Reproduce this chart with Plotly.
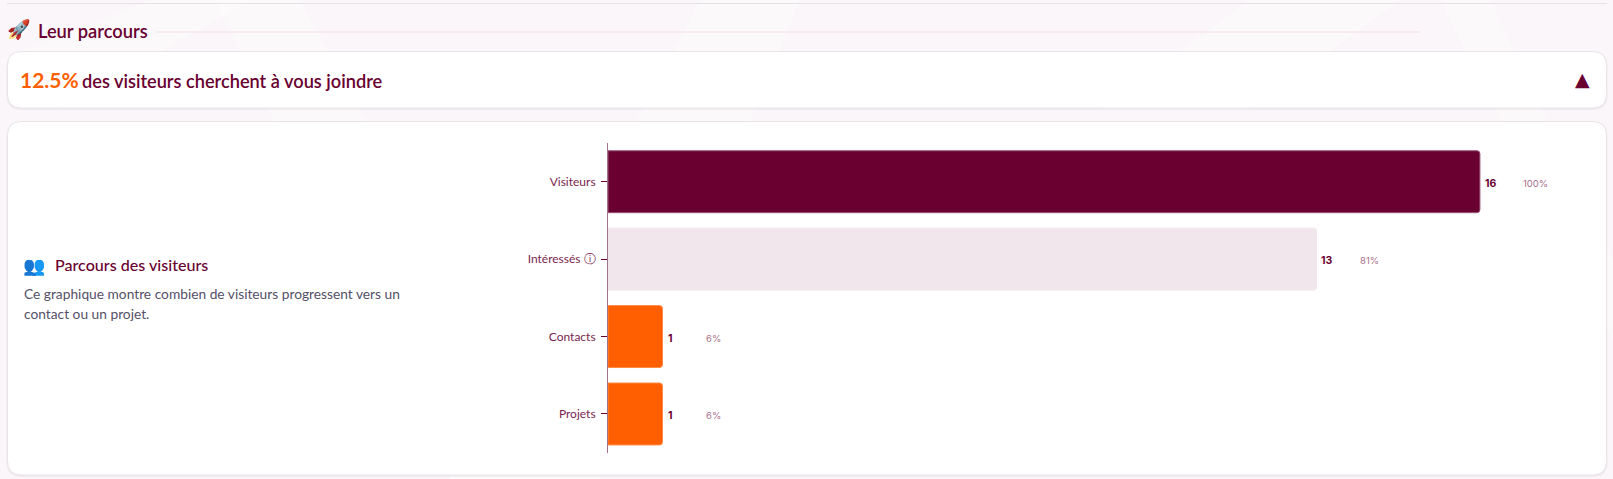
import plotly.graph_objects as go

W, H = 1613, 479
categories = ["Visiteurs", "Intéressés", "Contacts", "Projets"]
tick_labels = ["Visiteurs", "Intéressés ⓘ", "Contacts", "Projets"]
values = [16, 13, 1, 1]
percents = ["100%", "81%", "6%", "6%"]
bar_colors = ["#690030", "#F0E6EC", "#FF5F00", "#FF5F00"]
bar_edges = ["#9A5578", "#F0E6EC", "#FF8A45", "#FF8A45"]

WINE = "#690030"
BASE = "Lato"
def px(x): return x / W
def py(y): return 1 - y / H

def rounded(x0, y0, x1, y1, r):
    X0, X1, Y0, Y1 = px(x0), px(x1), py(y0), py(y1)
    rx, ry = r / W, r / H
    return (f"M{X0+rx},{Y0} L{X1-rx},{Y0} Q{X1},{Y0} {X1},{Y0-ry} L{X1},{Y1+ry} Q{X1},{Y1} {X1-rx},{Y1} "
            f"L{X0+rx},{Y1} Q{X0},{Y1} {X0},{Y1+ry} L{X0},{Y0-ry} Q{X0},{Y0} {X0+rx},{Y0} Z")

def poly(pts):
    return "M" + " L".join(f"{px(a)},{py(b)}" for a, b in pts) + " Z"

fig = go.Figure(go.Bar(
    y=categories, x=values, orientation="h",
    marker=dict(color=bar_colors, line=dict(color=bar_edges, width=1)),
    hoverinfo="skip", showlegend=False,
))

shapes = []
# faint background swooshes
for pts in [
    [(0, 60), (150, 0), (250, 0), (60, 110)],
    [(215, 0), (300, 0), (560, 479), (450, 479)],
    [(450, 479), (700, 0), (800, 0), (600, 479)],
    [(1440, 0), (1490, 0), (1613, 260), (1613, 340)],
    [(1250, 0), (1400, 0), (1250, 110), (1100, 110)],
]:
    shapes.append(dict(type="path", path=poly(pts), xref="paper", yref="paper",
                       fillcolor="rgba(255,255,255,0.4)", line=dict(width=0), layer="below"))
# top rule and heading rule
shapes.append(dict(type="line", xref="paper", yref="paper", x0=px(7), x1=px(1607), y0=py(3.5), y1=py(3.5),
                   line=dict(color="#E7E2E7", width=1), layer="below"))
shapes.append(dict(type="line", xref="paper", yref="paper", x0=px(156), x1=px(1420), y0=py(32), y1=py(32),
                   line=dict(color="#F3E6EC", width=1.5), layer="below"))
# cards
for (x0, y0, x1, y1) in [(7.5, 51.5, 1606.5, 108), (7.5, 121.5, 1606.5, 475)]:
    shapes.append(dict(type="path", path=rounded(x0 - 1, y0, x1 + 1, y1 + 2, 15), xref="paper", yref="paper",
                       fillcolor="rgba(120,90,110,0.07)", line=dict(width=0), layer="below"))
    shapes.append(dict(type="path", path=rounded(x0, y0, x1, y1, 14), xref="paper", yref="paper",
                       fillcolor="#FFFFFF", line=dict(color="#E8E4E8", width=1), layer="below"))

def note(x, y, text, size, color, weight=400, family=BASE, anchor="left"):
    return dict(x=px(x), y=py(y), xref="paper", yref="paper", text=text, showarrow=False,
                xanchor=anchor, yanchor="middle", align="left",
                font=dict(family=family, size=size, color=color, weight=weight))

notes = [
    note(5, 30, "🚀", 19, WINE, family="Noto Color Emoji, DejaVu Sans"),
    note(35.5, 31, "Leur parcours", 18.3, WINE, 600),
    note(17.5, 79.5, "12.5%", 21, "#FF5F00", 700),
    note(80, 80.5, "des visiteurs cherchent à vous joindre", 18.2, WINE, 600),
    note(1582, 79, "▲", 19, WINE, family="DejaVu Sans", anchor="center"),
    note(21, 265, "👥", 18, "#2F7FD0", family="Noto Color Emoji, DejaVu Sans"),
    note(52.5, 264.5, "Parcours des visiteurs", 16.1, WINE, 500),
    note(21.5, 293, "Ce graphique montre combien de visiteurs progressent vers un", 13.75, "#555068"),
    note(21.5, 313, "contact ou un projet.", 13.75, "#555068"),
]
for c, v, p in zip(categories, values, percents):
    notes.append(dict(x=v, y=c, xref="x", yref="y", text=f"<b>{v}</b>", showarrow=False, xanchor="left",
                      xshift=3, yshift=-1.5, font=dict(family="Inter", size=10.5, color=WINE)))
    notes.append(dict(x=v, y=c, xref="x", yref="y", text=p, showarrow=False, xanchor="left",
                      xshift=41.5, yshift=-1.5, font=dict(family="Inter", size=9.5, color="#A8708C")))

fig.update_layout(
    width=W, height=H, autosize=False,
    margin=dict(l=0, r=0, t=0, b=0),
    paper_bgcolor="#FAF6F9", plot_bgcolor="rgba(0,0,0,0)",
    bargap=0.2, barcornerradius=3,
    shapes=shapes, annotations=notes,
    xaxis=dict(domain=[px(608), px(1590)], range=[0, 18.02], visible=False, fixedrange=True),
    yaxis=dict(domain=[py(452.7), py(143)], autorange="reversed", categoryorder="array",
               categoryarray=categories, tickvals=categories, ticktext=tick_labels,
               ticks="outside", ticklen=6, tickcolor=WINE, tickwidth=1,
               showline=True, linecolor="#A0708C", linewidth=1, showgrid=False, zeroline=False,
               ticklabelstandoff=3, tickfont=dict(family=BASE, size=12, color="#7A2650"), fixedrange=True),
)
fig.write_html("out.html", config=dict(displayModeBar=False),
               post_script="document.body.style.margin='0';document.body.style.overflow='hidden';")
